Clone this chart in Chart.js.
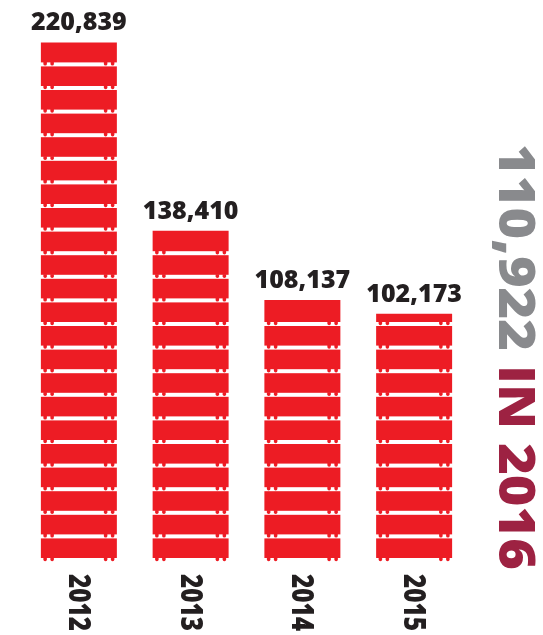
<!DOCTYPE html>
<html>
<head>
<meta charset="utf-8">
<script src="https://cdn.jsdelivr.net/npm/chart.js@4"></script>
<style>
  html, body { margin: 0; padding: 0; background: #fff; }
  #wrap { width: 543px; height: 635px; }
</style>
</head>
<body>
<div id="wrap"><canvas id="chartCanvas"></canvas></div>
<script>
// data
const years = ["2012", "2013", "2014", "2015"];
const counts = [220839, 138410, 108137, 102173];
const headlineValue = "110,922";
const headlineSuffix = "IN 2016";

const RED = "#ed1c24";
const INK = "#231f20";
const AXIS_MIN = -6476;
const AXIS_MAX = 235050;

// the bars look like stacked pallets: white gaps with little feet, counted up from the base
const palletPlugin = {
    id: "pallets",
    afterDatasetsDraw(chart) {
        const ctx = chart.ctx;
        const pitch = 23.6, gapH = 4, footH = 3.2;
        chart.getDatasetMeta(0).data.forEach((bar) => {
            const left = bar.x - bar.width / 2;
            const w = bar.width;
            ctx.save();
            for (let k = 0; ; k++) {
                const gapBottom = bar.base - k * pitch;
                const gapTop = gapBottom - gapH;
                if (gapTop <= bar.y + 3) break;
                ctx.fillStyle = "#fff";
                ctx.fillRect(left - 1, gapTop, w + 2, gapH);
                ctx.fillStyle = RED;
                [2.5, 9.5, w - 13, w - 6].forEach((off) => {
                    ctx.beginPath();
                    ctx.roundRect(left + off, gapTop - 0.5, 3.5, footH + 0.5, [0, 0, 1.7, 1.7]);
                    ctx.fill();
                });
            }
            ctx.restore();
        });
    },
};

const labelPlugin = {
    id: "labels",
    afterDraw(chart) {
        const ctx = chart.ctx;
        const meta = chart.getDatasetMeta(0);
        ctx.save();
        // values on top of the bars
        ctx.fillStyle = INK;
        ctx.font = '800 25px "Open Sans"';
        ctx.textAlign = "center";
        ctx.textBaseline = "alphabetic";
        meta.data.forEach((bar, i) => {
            ctx.fillText(counts[i].toLocaleString("en-US"), bar.x, bar.y - 12);
        });

        // year labels, turned clockwise, under each bar
        const xScale = chart.scales.x;
        ctx.font = '800 30px "Open Sans"';
        ctx.textAlign = "left";
        years.forEach((yr, i) => {
            const x = xScale.getPixelForTick(i);
            const tw = ctx.measureText(yr).width;
            ctx.save();
            ctx.translate(x, 574);
            ctx.rotate(Math.PI / 2);
            ctx.scale(57 / tw, 1);
            ctx.fillText(yr, 0, 10);
            ctx.restore();
        });

        // headline down the right side
        ctx.font = '800 50px "Open Sans"';
        const first = headlineValue + " ";
        const w1 = ctx.measureText(first).width;
        const w2 = ctx.measureText(headlineSuffix).width;
        ctx.translate(499, 144);
        ctx.rotate(Math.PI / 2);
        ctx.scale(426 / (w1 + w2), 1);
        ctx.fillStyle = "#898a8d";
        ctx.fillText(first, 0, 0);
        ctx.fillStyle = "#9d2242";
        ctx.fillText(headlineSuffix, w1, 0);
        ctx.restore();
    },
};

new Chart(document.getElementById("chartCanvas"), {
    type: "bar",
    data: {
        labels: years,
        datasets: [
            {
                data: counts,
                base: AXIS_MIN,
                backgroundColor: RED,
                borderWidth: 0,
                barPercentage: 0.68,
                categoryPercentage: 1.0,
            },
        ],
    },
    options: {
        responsive: true,
        maintainAspectRatio: false,
        animation: false,
        layout: { padding: { left: 23, right: 73, top: 10, bottom: 73 } },
        plugins: { legend: { display: false }, tooltip: { enabled: false } },
        scales: {
            x: { display: false, grid: { display: false } },
            y: { display: false, min: AXIS_MIN, max: AXIS_MAX },
        },
    },
    plugins: [palletPlugin, labelPlugin],
});
</script>
</body>
</html>
